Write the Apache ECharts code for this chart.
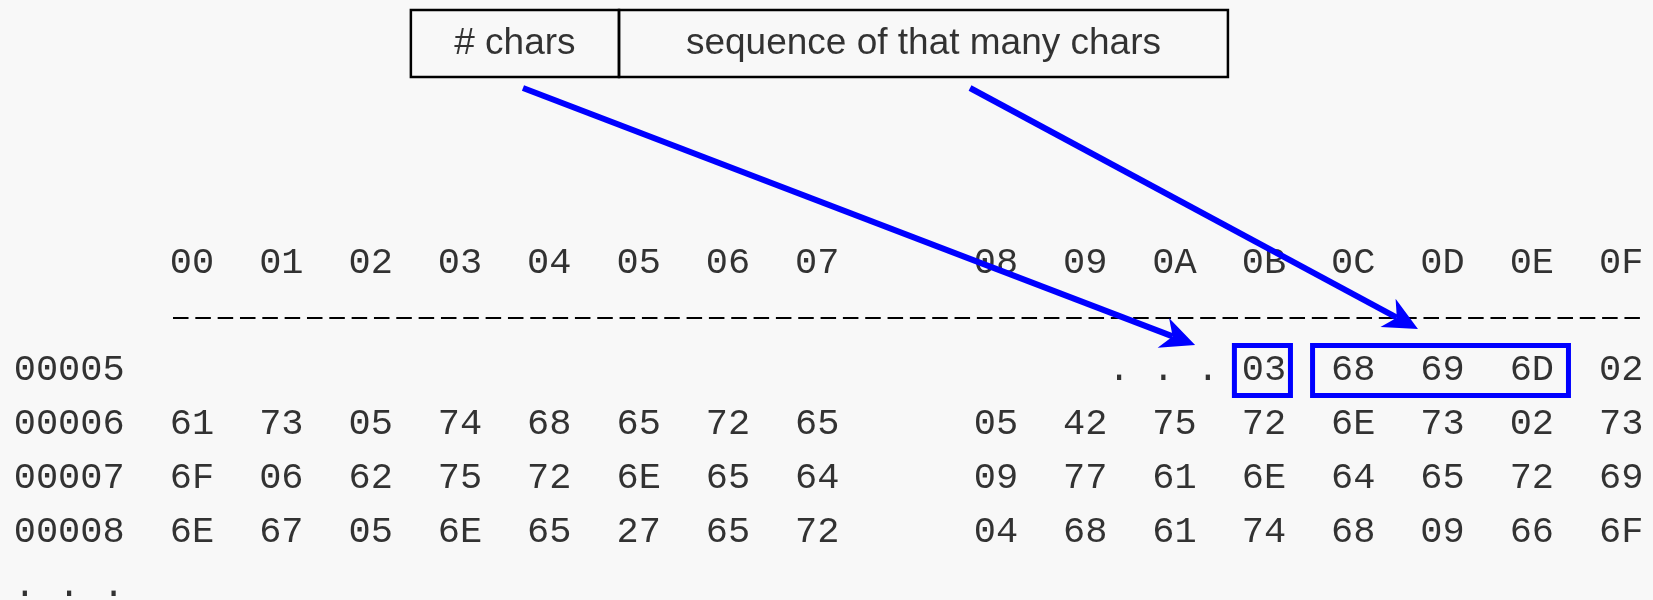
<!DOCTYPE html>
<html><head><meta charset="utf-8">
<script src="https://cdn.jsdelivr.net/npm/echarts@6/dist/echarts.min.js"></script>
<style>html,body{margin:0;padding:0;background:#f8f8f8}#c{width:1653px;height:600px}</style>
</head><body><div id="c"></div>
<script>
// ---- data ----
const colLabels = ['00','01','02','03','04','05','06','07','08','09','0A','0B','0C','0D','0E','0F'];
const rowAddrs = ['00005','00006','00007','00008'];
const bytes00005 = ['','','','','','','','','','','','03','68','69','6D','02'];
const bytes00006 = ['61','73','05','74','68','65','72','65','05','42','75','72','6E','73','02','73'];
const bytes00007 = ['6F','06','62','75','72','6E','65','64','09','77','61','6E','64','65','72','69'];
const bytes00008 = ['6E','67','05','6E','65','27','65','72','04','68','61','74','68','09','66','6F'];
const byteRows = [bytes00005, bytes00006, bytes00007, bytes00008];
const fieldLabels = ['# chars', 'sequence of that many chars'];
const skipMark = '. . .';
const countCol = ['0B'];
const seqCols = ['0C','0D','0E'];

// ---- layout (character-cell / text-row units) ----
const CHAR = 22.33, ROW = 53.8, X0 = 13.4, Y0 = 263;
const colX = k => 8 + 4 * k + (k >= 8 ? 4 : 0);
const ci = l => colLabels.indexOf(l);

const monoText = [];
colLabels.forEach((l, k) => monoText.push({name: l, value: [colX(k), 0]}));
rowAddrs.forEach((a, i) => {
  monoText.push({name: a, value: [2.5, 2 + i]});
  byteRows[i].forEach((b, k) => { if (b) monoText.push({name: b, value: [colX(k), 2 + i]}); });
});
monoText.push({name: skipMark, value: [colX(ci(countCol[0])) - 4.5, 2]});
monoText.push({name: skipMark, value: [2.5, 6]});

// dashed separator spanning the first to the last byte column (one dash per character cell)
const sepLine = [[colX(0) - 1 + 0.147, 1.022, colX(colLabels.length - 1) + 1 - 0.16, 1.022]];

const topBox = {l: 17.8, m: 27.12, r: 54.39, t: -4.703, b: -3.457};
const topRects = [[topBox.l, topBox.t, topBox.m, topBox.b], [topBox.m, topBox.t, topBox.r, topBox.b]];
const topText = [
  {name: fieldLabels[0], value: [(topBox.l + topBox.m) / 2, (topBox.t + topBox.b) / 2]},
  {name: fieldLabels[1], value: [(topBox.m + topBox.r) / 2, (topBox.t + topBox.b) / 2]}
];
const hiRects = [
  [colX(ci(countCol[0])) - 1.32, 1.533, colX(ci(countCol[countCol.length-1])) + 1.19, 2.463],
  [colX(ci(seqCols[0])) - 1.82, 1.533, colX(ci(seqCols[seqCols.length-1])) + 1.64, 2.463]
];
const arrows = [[22.82, -3.253, 52.92, 1.524], [42.84, -3.253, 62.90, 1.227]];

function rectItem(stroke, lw) {
  return function (params, api) {
    const a = api.coord([api.value(0), api.value(1)]);
    const b = api.coord([api.value(2), api.value(3)]);
    return {type: 'rect', shape: {x: Math.min(a[0], b[0]), y: Math.min(a[1], b[1]),
      width: Math.abs(b[0] - a[0]), height: Math.abs(b[1] - a[1])},
      style: {fill: 'none', stroke: stroke, lineWidth: lw}};
  };
}
function dashItem(params, api) {
  const a = api.coord([api.value(0), api.value(1)]);
  const b = api.coord([api.value(2), api.value(3)]);
  const cell = api.size([1, 0])[0];
  return {type: 'line', shape: {x1: a[0], y1: a[1], x2: b[0], y2: b[1]},
    style: {stroke: '#000', lineWidth: 2, lineDash: [cell - 6.8, 6.8]}};
}
function arrowItem(params, api) {
  const p1 = api.coord([api.value(0), api.value(1)]);
  const p2 = api.coord([api.value(2), api.value(3)]);
  let dx = p2[0] - p1[0], dy = p2[1] - p1[1];
  const len = Math.hypot(dx, dy); dx /= len; dy /= len;
  const nx = -dy, ny = dx, L = 34, W = 16, N = 24;
  const base = [p2[0] - dx * L, p2[1] - dy * L];
  const notch = [p2[0] - dx * N, p2[1] - dy * N];
  return {type: 'group', children: [
    {type: 'line', shape: {x1: p1[0], y1: p1[1], x2: notch[0], y2: notch[1]},
      style: {stroke: '#0000ff', lineWidth: 6}},
    {type: 'polygon', shape: {points: [p2, [base[0] + nx * W, base[1] + ny * W], notch, [base[0] - nx * W, base[1] - ny * W]]},
      style: {fill: '#0000ff'}}
  ]};
}

const chart = echarts.init(document.getElementById('c'));
chart.setOption({
  backgroundColor: '#f8f8f8',
  animation: false,
  grid: {left: X0, top: 0, width: 73 * CHAR, height: 600},
  xAxis: {type: 'value', min: 0, max: 73, show: false},
  yAxis: {type: 'value', min: -Y0 / ROW, max: (600 - Y0) / ROW, inverse: true, show: false},
  series: [
    {type: 'custom', renderItem: rectItem('#000', 2.5), data: topRects, silent: true},
    {type: 'custom', renderItem: rectItem('#0000ff', 5), data: hiRects, silent: true},
    {type: 'custom', renderItem: dashItem, data: sepLine, silent: true},
    {type: 'scatter', symbolSize: 0, data: monoText, silent: true,
      label: {show: true, position: 'inside', formatter: '{b}', color: '#000',
        fontFamily: 'Liberation Mono', fontSize: 37, align: 'center', verticalAlign: 'middle'}},
    {type: 'scatter', symbolSize: 0, data: topText, silent: true,
      label: {show: true, position: 'inside', formatter: '{b}', color: '#000',
        fontFamily: 'Liberation Sans', fontSize: 37, align: 'center', verticalAlign: 'middle'}},
    {type: 'custom', renderItem: arrowItem, data: arrows, silent: true, z: 5}
  ]
});
</script></body></html>
